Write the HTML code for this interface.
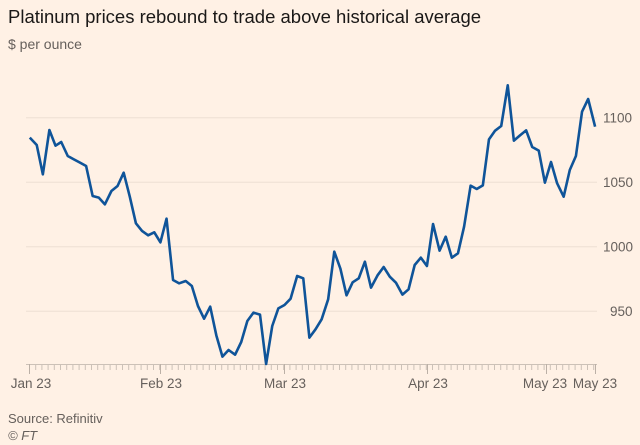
<!DOCTYPE html>
<html><head><meta charset="utf-8"><style>
html,body{margin:0;padding:0;background:#FFF1E5;}
body{width:640px;height:445px;overflow:hidden;font-family:"Liberation Sans",sans-serif;}
</style></head><body>
<svg width="640" height="445" xmlns="http://www.w3.org/2000/svg" style="display:block">
<rect width="640" height="445" fill="#FFF1E5"/>
<text x="8" y="23" font-size="18.5" fill="#1a1817">Platinum prices rebound to trade above historical average</text>
<text x="8" y="49" font-size="14" fill="#66605c">$ per ounce</text>
<g stroke="#eddfd4" stroke-width="1">
<line x1="26" y1="117.7" x2="597" y2="117.7"/>
<line x1="26" y1="182.3" x2="597" y2="182.3"/>
<line x1="26" y1="246.7" x2="597" y2="246.7"/>
<line x1="26" y1="311.3" x2="597" y2="311.3"/>
</g>
<g font-size="13.5" fill="#66605c">
<text x="603" y="122.5">1100</text>
<text x="603" y="187">1050</text>
<text x="603" y="251.5">1000</text>
<text x="610" y="316">950</text>
</g>
<line x1="26" y1="364.5" x2="597" y2="364.5" stroke="#ccc1b7"/>
<g id="ticks" stroke="#ccc1b7" stroke-width="1"></g>
<g stroke="#bbb0a6" stroke-width="1">
<line x1="29.5" y1="364" x2="29.5" y2="374"/>
<line x1="160.5" y1="364" x2="160.5" y2="374"/>
<line x1="284.5" y1="364" x2="284.5" y2="374"/>
<line x1="427.5" y1="364" x2="427.5" y2="374"/>
<line x1="546.5" y1="364" x2="546.5" y2="374"/>
<line x1="595.5" y1="364" x2="595.5" y2="374"/>
</g>
<g font-size="13.5" fill="#66605c" text-anchor="middle">
<text x="31" y="388">Jan 23</text>
<text x="161" y="388">Feb 23</text>
<text x="285" y="388">Mar 23</text>
<text x="428" y="388">Apr 23</text>
<text x="545" y="388">May 23</text>
<text x="595" y="388">May 23</text>
</g>
<g transform="translate(0,60) scale(0.40816,0.33333)">
<polyline fill="none" stroke="#0f5499" stroke-width="2.6" vector-effect="non-scaling-stroke" stroke-linejoin="round" points="73,233 90,255 105,343 121,210 136,257 150,246 166,288 181,298 196,308 211,318 227,408 242,413 257,433 273,393 288,378 303,338 318,410 333,490 348,513 363,526 378,517 393,547 408,476 424,660 439,670 455,663 470,678 485,738 500,776 515,740 530,826 545,890 560,870 576,884 591,846 606,783 621,758 637,764 652,912 667,798 682,745 697,735 712,716 728,648 743,655 758,833 773,808 788,778 804,718 819,575 834,626 849,706 864,667 879,655 894,605 909,683 925,646 940,621 955,650 970,668 986,704 1001,688 1016,615 1031,593 1046,618 1061,492 1077,572 1092,530 1107,593 1122,580 1137,500 1153,377 1168,387 1183,376 1198,238 1213,212 1228,198 1244,76 1259,242 1274,226 1289,211 1304,261 1320,272 1335,368 1350,306 1365,370 1381,410 1396,330 1411,288 1426,155 1441,117 1458,200"/>
</g>
<text x="8" y="423" font-size="13" fill="#66605c">Source: Refinitiv</text>
<text x="8" y="440" font-size="13" fill="#66605c" font-style="italic">© FT</text>
</svg>
<script>
var g=document.getElementById('ticks'),s='';
for(var x=29.5;x<=597;x+=6.2){s+='<line x1="'+x+'" y1="364" x2="'+x+'" y2="370"/>';}
g.innerHTML=s;
</script>
</body></html>
